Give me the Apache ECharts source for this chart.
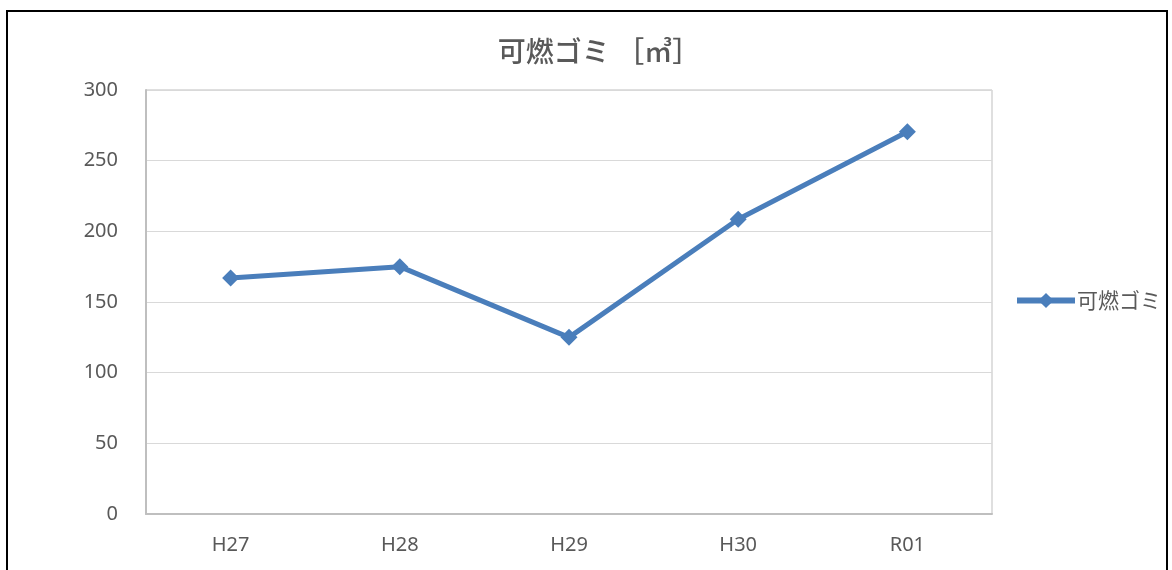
<!DOCTYPE html>
<html>
<head>
<meta charset="utf-8">
<script src="https://cdn.jsdelivr.net/npm/echarts@6/dist/echarts.min.js"></script>
<style>
  html, body { margin: 0; padding: 0; background: #fff; }
  #frame { position: absolute; left: 6px; top: 10px; width: 1162px; height: 570px; border: 2px solid #000; box-sizing: border-box; }
  #main { position: absolute; left: 0; top: 0; width: 1172px; height: 570px; }
</style>
</head>
<body>
<div id="frame"></div>
<div id="main"></div>
<script>
const categories = ['H27', 'H28', 'H29', 'H30', 'R01'];
const values = [167, 175, 125, 208.5, 270.5];
const seriesName = '可燃ゴミ';
const yTicks = { min: 0, max: 300, interval: 50 };

const chart = echarts.init(document.getElementById('main'));
const labelFont = '"Noto Sans", "Noto Sans CJK JP", sans-serif';
const cjkFont = '"Noto Sans CJK JP", sans-serif';

chart.setOption({
  animation: false,
  title: {
    text: '可燃ゴミ ［㎥］',
    left: 594,
    top: 32,
    textAlign: 'center',
    textStyle: { color: '#595959', fontSize: 28, fontWeight: 500, fontFamily: cjkFont }
  },
  grid: {
    left: 146, right: 180, top: 90, bottom: 56,
    show: true, borderColor: '#bfbfbf', borderWidth: 1
  },
  legend: {
    data: [seriesName],
    left: 1009, top: 285,
    itemWidth: 58, itemHeight: 19,
    itemGap: 4,
    lineStyle: { width: 6 },
    textStyle: { color: '#595959', fontSize: 21, fontFamily: cjkFont, padding: [0, 0, 0, -3] }
  },
  xAxis: {
    type: 'category',
    data: categories,
    boundaryGap: true,
    axisLine: { lineStyle: { color: '#bfbfbf', width: 2 } },
    axisTick: { show: false },
    axisLabel: { color: '#595959', fontSize: 20, margin: 21, fontFamily: labelFont }
  },
  yAxis: {
    type: 'value',
    min: yTicks.min, max: yTicks.max, interval: yTicks.interval,
    axisLine: { show: true, lineStyle: { color: '#bfbfbf', width: 2 } },
    axisTick: { show: false },
    axisLabel: { color: '#595959', fontSize: 20, margin: 28, fontFamily: labelFont },
    splitLine: { lineStyle: { color: '#d9d9d9', width: 1 } }
  },
  series: [{
    name: seriesName,
    type: 'line',
    data: values,
    symbol: 'diamond',
    symbolSize: 17,
    lineStyle: { color: '#4a7ebb', width: 5 },
    itemStyle: { color: '#4a7ebb' }
  }]
});
</script>
</body>
</html>
